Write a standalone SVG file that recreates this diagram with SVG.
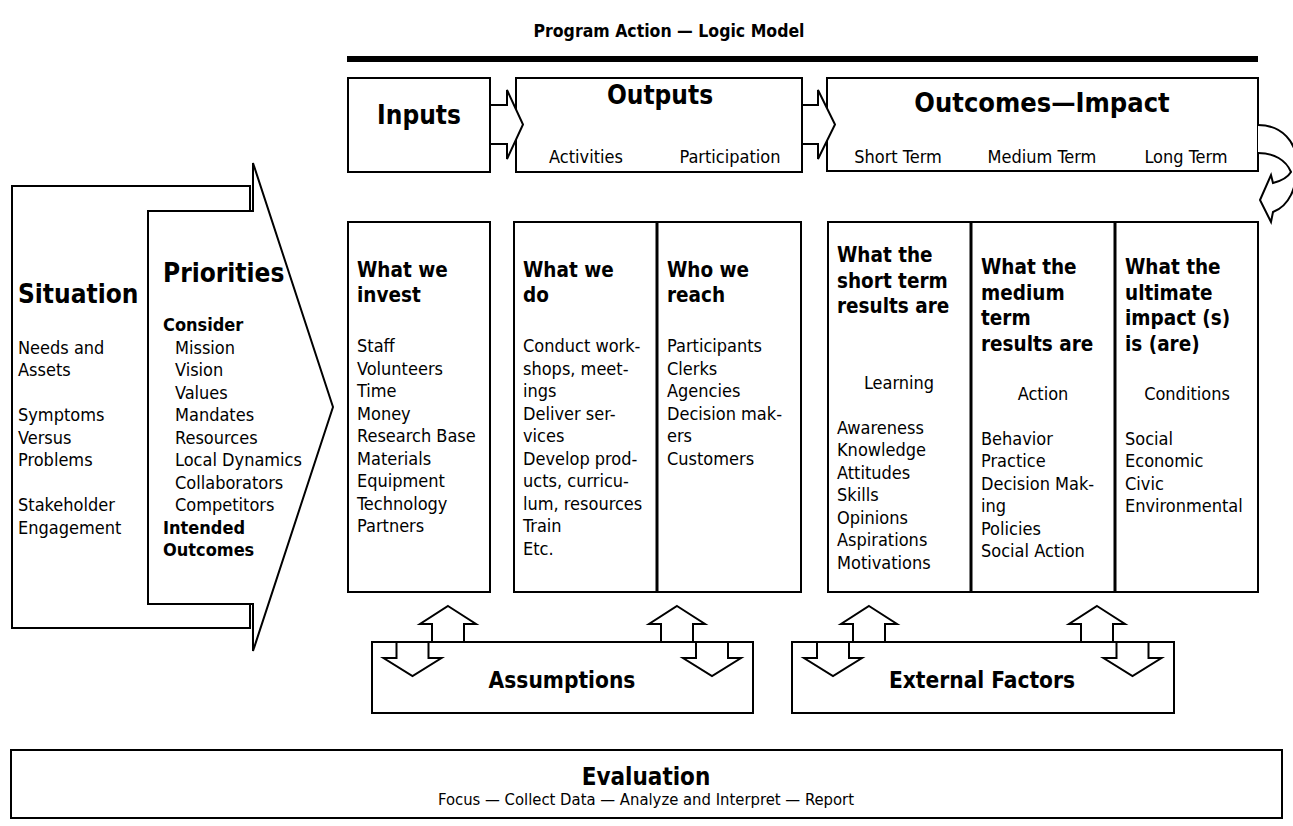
<svg xmlns="http://www.w3.org/2000/svg" xmlns:xlink="http://www.w3.org/1999/xlink" width="1293" height="826" viewBox="0 0 1293 826">
  <style>
    text { font-family: 'DejaVu Sans Condensed', 'DejaVu Sans', sans-serif; font-stretch: condensed; fill: #000; }
    .body { font-size: 18px; }
    .head { font-size: 20.5px; font-weight: bold; }
    .big { font-size: 26px; font-weight: bold; }
    .mid { font-size: 22.5px; font-weight: bold; }
    .title { font-size: 17.5px; font-weight: bold; }
    .sub { font-size: 18px; font-weight: bold; }
    .note { font-size: 16.5px; }
    .c { text-anchor: middle; }
    .box { fill: #fff; stroke: #000; stroke-width: 2; }
    .arrow { fill: #fff; stroke: #000; stroke-width: 2; stroke-linejoin: miter; }
    .div { stroke: #000; stroke-width: 3; }
  </style>
  <defs>
    <!-- hollow block arrows used between the boxes and the assumption / factor panels -->
    <polygon id="up" class="arrow" points="0,0 28,18 16,18 16,36 -16,36 -16,18 -28,18"/>
    <polygon id="down" class="arrow" points="-16,0 16,0 16,16 29,16 0,34 -29,16 -16,16"/>
  </defs>
  <rect width="1293" height="826" fill="#fff"/>

  <!-- heading bar -->
  <g id="title">
    <text class="title c" x="669" y="37">Program Action — Logic Model</text>
    <line x1="347" y1="59" x2="1258" y2="59" stroke="#000" stroke-width="6"/>
  </g>

  <!-- situation and priorities block arrows -->
  <g id="situation">
    <rect class="box" x="12" y="186" width="238" height="442"/>
    <text class="big" x="18" y="303">Situation</text>
    <text class="body" x="18" y="353.5">Needs and</text>
    <text class="body" x="18" y="376">Assets</text>
    <text class="body" x="18" y="421">Symptoms</text>
    <text class="body" x="18" y="443.5">Versus</text>
    <text class="body" x="18" y="466">Problems</text>
    <text class="body" x="18" y="511">Stakeholder</text>
    <text class="body" x="18" y="533.5">Engagement</text>
  </g>
  <g id="priorities">
    <polygon class="arrow" points="148,211 253,211 253,163 333,407 253,651 253,604 148,604"/>
    <text class="big" x="163" y="282">Priorities</text>
    <text class="sub" x="163" y="331">Consider</text>
    <text class="body" x="175" y="353.5">Mission</text>
    <text class="body" x="175" y="376">Vision</text>
    <text class="body" x="175" y="398.5">Values</text>
    <text class="body" x="175" y="421">Mandates</text>
    <text class="body" x="175" y="443.5">Resources</text>
    <text class="body" x="175" y="466">Local Dynamics</text>
    <text class="body" x="175" y="488.5">Collaborators</text>
    <text class="body" x="175" y="511">Competitors</text>
    <text class="sub" x="163" y="533.5">Intended</text>
    <text class="sub" x="163" y="556">Outcomes</text>
  </g>

  <!-- top row -->
  <g id="inputs">
    <rect class="box" x="348" y="78" width="142" height="94"/>
    <text class="big c" x="419" y="124">Inputs</text>
  </g>
  <g id="outputs">
    <rect class="box" x="516" y="78" width="286" height="94"/>
    <text class="big c" x="660" y="104">Outputs</text>
    <text class="body c" x="586" y="163">Activities</text>
    <text class="body c" x="730" y="163">Participation</text>
  </g>
  <g id="outcomes">
    <rect class="box" x="827" y="78" width="431" height="93"/>
    <text class="big c" x="1042" y="112" style="font-size:27px">Outcomes—Impact</text>
    <text class="body c" x="898" y="163">Short Term</text>
    <text class="body c" x="1042" y="163">Medium Term</text>
    <text class="body c" x="1186" y="163">Long Term</text>
  </g>

  <!-- detail columns -->
  <g id="invest">
    <rect class="box" x="348" y="222" width="142" height="370"/>
    <text class="head" x="357" y="277">What we</text>
    <text class="head" x="357" y="302">invest</text>
    <text class="body" x="357" y="352">Staff</text>
    <text class="body" x="357" y="374.5">Volunteers</text>
    <text class="body" x="357" y="397">Time</text>
    <text class="body" x="357" y="419.5">Money</text>
    <text class="body" x="357" y="442">Research Base</text>
    <text class="body" x="357" y="464.5">Materials</text>
    <text class="body" x="357" y="487">Equipment</text>
    <text class="body" x="357" y="509.5">Technology</text>
    <text class="body" x="357" y="532">Partners</text>
  </g>
  <g id="activities">
    <rect class="box" x="514" y="222" width="143" height="370"/>
    <text class="head" x="523" y="277">What we</text>
    <text class="head" x="523" y="302">do</text>
    <text class="body" x="523" y="352">Conduct work-</text>
    <text class="body" x="523" y="374.5">shops, meet-</text>
    <text class="body" x="523" y="397">ings</text>
    <text class="body" x="523" y="419.5">Deliver ser-</text>
    <text class="body" x="523" y="442">vices</text>
    <text class="body" x="523" y="464.5">Develop prod-</text>
    <text class="body" x="523" y="487">ucts, curricu-</text>
    <text class="body" x="523" y="509.5">lum, resources</text>
    <text class="body" x="523" y="532">Train</text>
    <text class="body" x="523" y="554.5">Etc.</text>
  </g>
  <g id="participation">
    <rect class="box" x="657" y="222" width="144" height="370"/>
    <line class="div" x1="657" y1="222" x2="657" y2="592"/>
    <text class="head" x="667" y="277">Who we</text>
    <text class="head" x="667" y="302">reach</text>
    <text class="body" x="667" y="352">Participants</text>
    <text class="body" x="667" y="374.5">Clerks</text>
    <text class="body" x="667" y="397">Agencies</text>
    <text class="body" x="667" y="419.5">Decision mak-</text>
    <text class="body" x="667" y="442">ers</text>
    <text class="body" x="667" y="464.5">Customers</text>
  </g>
  <g id="short-term">
    <rect class="box" x="828" y="222" width="143" height="370"/>
    <text class="head" x="837" y="262">What the</text>
    <text class="head" x="837" y="287.5">short term</text>
    <text class="head" x="837" y="313">results are</text>
    <text class="body c" x="899" y="389">Learning</text>
    <text class="body" x="837" y="433.5">Awareness</text>
    <text class="body" x="837" y="456">Knowledge</text>
    <text class="body" x="837" y="478.5">Attitudes</text>
    <text class="body" x="837" y="501">Skills</text>
    <text class="body" x="837" y="523.5">Opinions</text>
    <text class="body" x="837" y="546">Aspirations</text>
    <text class="body" x="837" y="568.5">Motivations</text>
  </g>
  <g id="medium-term">
    <rect class="box" x="971" y="222" width="144" height="370"/>
    <line class="div" x1="971" y1="222" x2="971" y2="592"/>
    <text class="head" x="981" y="274">What the</text>
    <text class="head" x="981" y="299.5">medium</text>
    <text class="head" x="981" y="325">term</text>
    <text class="head" x="981" y="350.5">results are</text>
    <text class="body c" x="1043" y="400">Action</text>
    <text class="body" x="981" y="444.5">Behavior</text>
    <text class="body" x="981" y="467">Practice</text>
    <text class="body" x="981" y="489.5">Decision Mak-</text>
    <text class="body" x="981" y="512">ing</text>
    <text class="body" x="981" y="534.5">Policies</text>
    <text class="body" x="981" y="557">Social Action</text>
  </g>
  <g id="long-term">
    <rect class="box" x="1115" y="222" width="143" height="370"/>
    <line class="div" x1="1115" y1="222" x2="1115" y2="592"/>
    <text class="head" x="1125" y="274">What the</text>
    <text class="head" x="1125" y="299.5">ultimate</text>
    <text class="head" x="1125" y="325">impact (s)</text>
    <text class="head" x="1125" y="350.5">is (are)</text>
    <text class="body c" x="1187" y="400">Conditions</text>
    <text class="body" x="1125" y="444.5">Social</text>
    <text class="body" x="1125" y="467">Economic</text>
    <text class="body" x="1125" y="489.5">Civic</text>
    <text class="body" x="1125" y="512">Environmental</text>
  </g>

  <!-- bottom panels -->
  <g id="assumptions">
    <rect class="box" x="372" y="642" width="381" height="71"/>
    <text class="mid c" x="562" y="688">Assumptions</text>
  </g>
  <g id="external-factors">
    <rect class="box" x="792" y="642" width="382" height="71"/>
    <text class="mid c" x="982" y="688">External Factors</text>
  </g>
  <g id="evaluation">
    <rect class="box" x="11" y="750" width="1271" height="68"/>
    <text class="big c" x="646" y="784.5" style="font-size:24px">Evaluation</text>
    <text class="note c" x="646" y="805">Focus — Collect Data — Analyze and Interpret — Report</text>
  </g>

  <!-- connectors -->
  <g id="connectors">
    <polygon class="arrow" points="490,105 507,105 507,90 523,124.5 507,159 507,144 490,144"/>
    <polygon class="arrow" points="802,105 818,105 818,90 835,124.5 818,159 818,144 802,144"/>
    <!-- loop back from outcomes to the detail row -->
    <path class="arrow" d="M1258,125 C1282,125 1297,142 1297,165 C1297,188 1289,206 1273,212 L1271,222 L1260,200 L1271,175 L1273,183 C1281,181 1288,177 1291,172 C1286,160 1274,153 1258,153"/>
    <use xlink:href="#up" x="448" y="606"/>
    <use xlink:href="#up" x="677" y="606"/>
    <use xlink:href="#down" x="412.5" y="642"/>
    <use xlink:href="#down" x="712" y="642"/>
    <use xlink:href="#up" x="869" y="606"/>
    <use xlink:href="#up" x="1097" y="606"/>
    <use xlink:href="#down" x="833" y="642"/>
    <use xlink:href="#down" x="1132.5" y="642"/>
  </g>
</svg>
